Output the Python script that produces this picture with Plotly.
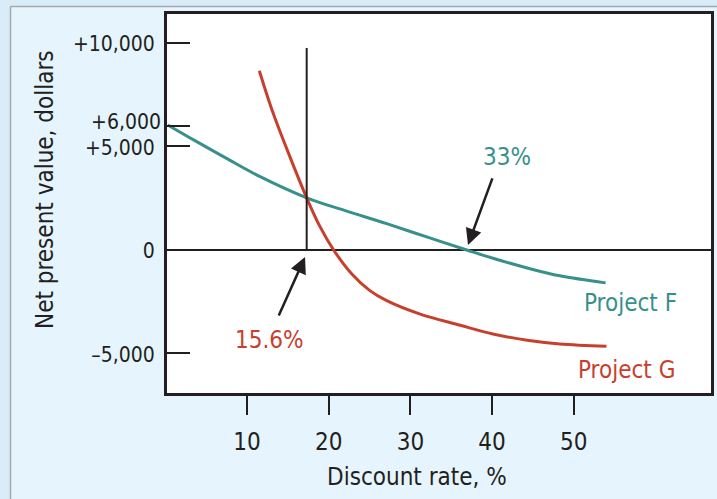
import plotly.graph_objects as go

# ---- data ----
rate_f = [0.3, 3.4, 7.6, 11.6, 17.3, 22.0, 27.1, 32.0, 36.9, 40.1, 44.3, 48.3, 53.9]
npv_f = [6040, 5330, 4400, 3540, 2520, 1900, 1270, 630, 0, -400, -870, -1250, -1590]

rate_g = [11.5, 13.2, 15.3, 17.3, 18.9, 20.6, 22.8, 25.0, 27.1, 31.2, 36.1, 40.1, 44.3, 48.3, 54.0]
npv_g = [8660, 6600, 4450, 2520, 1150, 0, -1150, -1950, -2450, -3100, -3640, -4060, -4360, -4540, -4650]

crossover_x = [17.3, 17.3]
crossover_y = [0, 9760]

y_tickvals = [10000, 5000, 0, -5000]
y_ticktext = ["+10,000", "+5,000", "0", "\u20135,000"]
y2_tickvals = [6000]
y2_ticktext = ["+6,000"]
x_tickvals = [10, 20, 30, 40, 50]
x_ticktext = ["10", "20", "30", "40", "50"]

TEAL = "#37908b"
RED = "#c7402d"
INK = "#231f20"
FONT = "Liberation Sans Narrow, Arial Narrow, DejaVu Sans Condensed, sans-serif"

fig = go.Figure()
fig.add_trace(go.Scatter(x=rate_f, y=npv_f, mode="lines", line=dict(color=TEAL, width=3, shape="spline"),
                         name="Project F", hoverinfo="skip"))
fig.add_trace(go.Scatter(x=rate_g, y=npv_g, mode="lines", line=dict(color=RED, width=3, shape="spline"),
                         name="Project G", hoverinfo="skip"))
fig.add_trace(go.Scatter(x=crossover_x, y=crossover_y, mode="lines", line=dict(color=INK, width=2),
                         hoverinfo="skip", showlegend=False, yaxis="y2"))

L, R, T, B = 167, 6, 14, 106
W, H = 717, 499
pw, ph = W - L - R, H - T - B
Y_RANGE = [-6910, 11400]

def px(x):
    return (x - L) / pw

def py(y):
    return (H - B - y) / ph

annotations = [
    dict(x=17.1, y=-340, ax=13.8, ay=-3240, xref="x", yref="y", axref="x", ayref="y",
         showarrow=True, arrowhead=2, arrowsize=1.3, arrowwidth=2.5, arrowcolor=INK, text=""),
    dict(x=37.05, y=240, ax=40.1, ay=3530, xref="x", yref="y", axref="x", ayref="y",
         showarrow=True, arrowhead=2, arrowsize=1.3, arrowwidth=2.5, arrowcolor=INK, text=""),
    dict(x=12.8, y=-4350, text="15.6%", showarrow=False, font=dict(color=RED, size=24, family=FONT)),
    dict(x=41.8, y=4490, text="33%", showarrow=False, font=dict(color=TEAL, size=24, family=FONT)),
    dict(x=56.9, y=-2560, text="Project F", showarrow=False, font=dict(color=TEAL, size=24, family=FONT)),
    dict(x=56.5, y=-5800, text="Project G", showarrow=False, font=dict(color=RED, size=24, family=FONT)),
    dict(x=px(417), y=py(477), xref="paper", yref="paper", xanchor="center", yanchor="middle",
         text="Discount rate, %", showarrow=False, font=dict(color=INK, size=24, family=FONT)),
    dict(x=px(45), y=py(190), xref="paper", yref="paper", xanchor="center", yanchor="middle",
         text="Net present value, dollars", showarrow=False,
         textangle=-90, font=dict(color=INK, size=24, family=FONT)),
]

shapes = [
    dict(type="rect", xref="paper", yref="paper", x0=px(-5), x1=px(10), y0=py(-5), y1=py(505),
         fillcolor="#d9ecf7", line=dict(width=0), layer="below"),
    dict(type="rect", xref="paper", yref="paper", x0=px(-5), x1=px(725), y0=py(-5), y1=py(6),
         fillcolor="#d9ecf7", line=dict(width=0), layer="below"),
    dict(type="line", xref="paper", yref="paper", x0=px(10.5), x1=px(725), y0=py(6.5), y1=py(6.5),
         line=dict(color="#a3aab0", width=1.5), layer="below"),
    dict(type="line", xref="paper", yref="paper", x0=px(10.5), x1=px(10.5), y0=py(6.5), y1=py(505),
         line=dict(color="#a3aab0", width=1.5), layer="below"),
]

fig.update_layout(
    width=W, height=H,
    margin=dict(l=L, r=R, t=T, b=B),
    paper_bgcolor="#e6f5fd",
    plot_bgcolor="white",
    showlegend=False,
    font=dict(family=FONT, size=24, color=INK),
    annotations=annotations,
    shapes=shapes,
    xaxis=dict(range=[0.2, 66.8], tickvals=x_tickvals, ticktext=x_ticktext, ticks="outside",
               ticklen=19, tickwidth=2, tickcolor=INK, showgrid=False, zeroline=False, automargin=False,
               showline=True, linewidth=3, linecolor=INK, mirror=True, ticklabelstandoff=6,
               tickfont=dict(size=24, color=INK, family=FONT)),
    yaxis=dict(range=Y_RANGE, tickvals=y_tickvals, ticktext=y_ticktext, ticks="inside",
               ticklen=23, tickwidth=2, tickcolor=INK, showgrid=False, zeroline=True, automargin=False,
               zerolinecolor=INK, zerolinewidth=2, ticklabelshift=1,
               showline=True, linewidth=3, linecolor=INK, mirror=True, ticklabelstandoff=5,
               tickfont=dict(size=21, color=INK, family=FONT)),
    yaxis2=dict(range=Y_RANGE, overlaying="y", side="left", tickvals=y2_tickvals, ticktext=y2_ticktext,
                ticks="inside", ticklen=23, tickwidth=2, tickcolor=INK, showgrid=False, zeroline=False,
                automargin=False, showline=False, ticklabelstandoff=5, ticklabelshift=-4,
                tickfont=dict(size=21, color=INK, family=FONT)),
)

fig.write_html("out.html", config={"displayModeBar": False},
               post_script="document.body.style.margin='0';document.body.style.overflow='hidden';")
